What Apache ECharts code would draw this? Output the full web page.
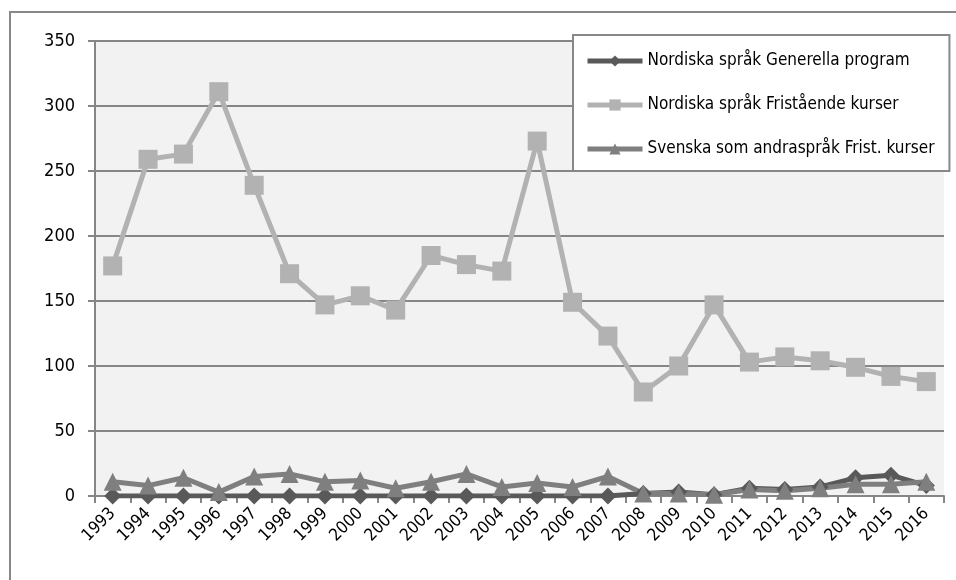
<!DOCTYPE html>
<html>
<head>
<meta charset="utf-8">
<script src="https://cdn.jsdelivr.net/npm/echarts@6/dist/echarts.min.js"></script>
<style>
    html, body { margin: 0; padding: 0; background: #fff; }
    #chart { width: 956px; height: 580px; }
</style>
</head>
<body>
<div id="chart"></div>
<script>
    // år
    var years = ['1993', '1994', '1995', '1996', '1997', '1998', '1999', '2000', '2001', '2002', '2003', '2004',
        '2005', '2006', '2007', '2008', '2009', '2010', '2011', '2012', '2013', '2014', '2015', '2016'];
    // Nordiska språk Generella program
    var generella = [0, 0, 0, 0, 0, 0, 0, 0, 0, 0, 0, 0, 0, 0, 0, 2, 3, 1, 6, 5, 7, 14, 16, 8];
    // Nordiska språk Fristående kurser
    var fristaende = [177, 259, 263, 311, 239, 171, 147, 154, 143, 185, 178, 173,
        273, 149, 123, 80, 100, 147, 103, 107, 104, 99, 92, 88];
    // Svenska som andraspråk Frist. kurser
    var svenska = [11, 8, 14, 3, 15, 17, 11, 12, 6, 11, 17, 7, 10, 7, 15, 2, 2, 1, 5, 4, 6, 9, 9, 11];
    var yTicks = [0, 50, 100, 150, 200, 250, 300, 350];

    var font = '"DejaVu Sans Condensed", "Liberation Sans Narrow", "Liberation Sans", Arial, sans-serif';
    var chart = echarts.init(document.getElementById('chart'));
    var option = {
        animation: false,
        textStyle: {fontFamily: font},
        graphic: [
            {
                // ramen runt diagrammet
                type: 'rect',
                shape: {x: 10, y: 12, width: 1000, height: 1000},
                style: {fill: 'none', stroke: '#888', lineWidth: 2},
                z: -1
            }
        ],
        grid: {
            left: 95,
            top: 41,
            right: 12,
            bottom: 84,
            show: true,
            backgroundColor: '#f2f2f2',
            borderWidth: 0
        },
        legend: {
            orient: 'vertical',
            left: 573,
            top: 35,
            padding: [16, 15, 12, 12],
            itemGap: 24,
            itemWidth: 55,
            itemHeight: 14,
            backgroundColor: '#fff',
            borderColor: '#888',
            borderWidth: 2,
            lineStyle: {width: 5},
            textStyle: {fontSize: 17, color: '#000', fontFamily: font, lineHeight: 20}
        },
        xAxis: {
            type: 'category',
            data: years,
            boundaryGap: true,
            axisLine: {lineStyle: {color: '#868686', width: 2}},
            axisTick: {show: true, length: 7, lineStyle: {color: '#868686', width: 2}},
            axisLabel: {rotate: 45, fontSize: 17, color: '#000', margin: 15, interval: 0}
        },
        yAxis: {
            type: 'value',
            min: yTicks[0],
            max: yTicks[yTicks.length - 1],
            interval: 50,
            axisLine: {show: true, lineStyle: {color: '#868686', width: 2}},
            axisTick: {show: true, length: 7, lineStyle: {color: '#868686', width: 2}},
            axisLabel: {fontSize: 18, color: '#000', margin: 20},
            splitLine: {lineStyle: {color: '#868686', width: 2}}
        },
        series: [
            {
                name: 'Nordiska språk Generella program',
                type: 'line',
                data: generella,
                symbol: 'diamond',
                symbolSize: 17,
                color: '#595959',
                lineStyle: {width: 5, color: '#595959'},
                itemStyle: {color: '#595959'}
            },
            {
                name: 'Nordiska språk Fristående kurser',
                type: 'line',
                data: fristaende,
                symbol: 'rect',
                symbolSize: 19,
                color: '#b2b2b2',
                lineStyle: {width: 5, color: '#b2b2b2'},
                itemStyle: {color: '#b2b2b2'}
            },
            {
                name: 'Svenska som andraspråk Frist. kurser',
                type: 'line',
                data: svenska,
                symbol: 'triangle',
                symbolSize: 18,
                color: '#7f7f7f',
                lineStyle: {width: 5, color: '#7f7f7f'},
                itemStyle: {color: '#7f7f7f'}
            }
        ]
    };
    chart.setOption(option);
</script>
</body>
</html>
